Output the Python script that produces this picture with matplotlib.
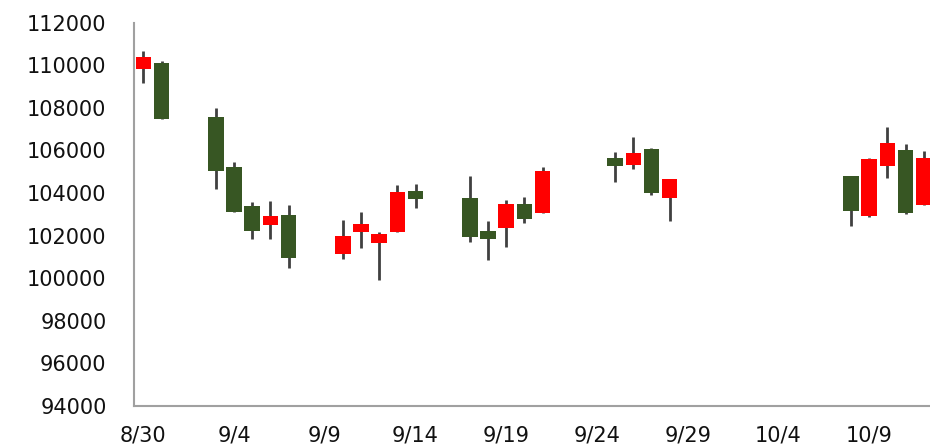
import matplotlib
matplotlib.use('Agg')
import matplotlib.pyplot as plt
import pandas as pd

dates = ['2018-08-30', '2018-08-31', '2018-09-03', '2018-09-04', '2018-09-05',
         '2018-09-06', '2018-09-07', '2018-09-10', '2018-09-11', '2018-09-12',
         '2018-09-13', '2018-09-14', '2018-09-17', '2018-09-18', '2018-09-19',
         '2018-09-20', '2018-09-21', '2018-09-25', '2018-09-26', '2018-09-27',
         '2018-09-28', '2018-10-08', '2018-10-09', '2018-10-10', '2018-10-11',
         '2018-10-12']
opens = [109840, 110100, 107560, 105240, 103410, 102500, 102970, 101150, 102160, 101660,
         102160, 104100, 103760, 102220, 102350, 103490, 103050, 105650, 105330, 106070,
         103770, 104800, 102920, 105260, 106010, 103430]
closes = [110380, 107500, 105040, 103130, 102220, 102910, 100940, 101990, 102560, 102065,
          104040, 103710, 101920, 101860, 103490, 102770, 105040, 105260, 105870, 103990,
          104660, 103150, 105590, 106350, 103070, 105650]
highs = [110690, 110190, 108010, 105470, 103570, 103640, 103430, 102740, 103100, 102170,
         104370, 104430, 104800, 102680, 103660, 103820, 105240, 105920, 106620, 106100,
         104660, 104800, 105640, 107100, 106320, 105960]
lows = [109190, 107470, 104180, 103120, 101830, 101830, 100500, 100900, 101410, 99920,
        102160, 103310, 101690, 100840, 101470, 102610, 103050, 104510, 105150, 103925,
        102680, 102470, 102880, 104720, 103030, 103430]

up_color = '#ff0000'
down_color = '#375623'

start = pd.Timestamp(dates[0])
x = [(pd.Timestamp(d) - start).days for d in dates]

fig = plt.figure(figsize=(9.3, 4.46), dpi=100)
ax = fig.add_axes([0.1444, 0.0897, 1 - 0.1444, 0.949 - 0.0897])

w = 0.86
for xi, o, c, h, l in zip(x, opens, closes, highs, lows):
    col = up_color if c >= o else down_color
    ax.vlines(xi, l, h, color='#404040', linewidth=2, zorder=1)
    ax.bar(xi, abs(c - o), bottom=min(o, c), width=w, color=col,
           edgecolor='none', zorder=2)

ax.set_xlim(-0.5, 43.35)
ax.set_ylim(94000, 112000)
ax.set_yticks(range(94000, 112001, 2000))
ax.set_yticklabels([str(v) for v in range(94000, 112001, 2000)])

tick_days = list(range(0, 44, 5))
tick_labels = [(start + pd.Timedelta(days=d)).strftime('%-m/%-d') for d in tick_days]
ax.set_xticks(tick_days)
ax.set_xticklabels(tick_labels)

ax.tick_params(axis='y', length=0, pad=20, labelsize=15, labelcolor='#111111')
ax.tick_params(axis='x', length=0, pad=14, labelsize=15, labelcolor='#111111')

ax.spines['top'].set_visible(False)
ax.spines['right'].set_visible(False)
ax.spines['left'].set_color('#a0a0a0')
ax.spines['bottom'].set_color('#a0a0a0')
ax.spines['left'].set_linewidth(1.5)
ax.spines['bottom'].set_linewidth(1.5)

fig.savefig('out.png', dpi=100)
